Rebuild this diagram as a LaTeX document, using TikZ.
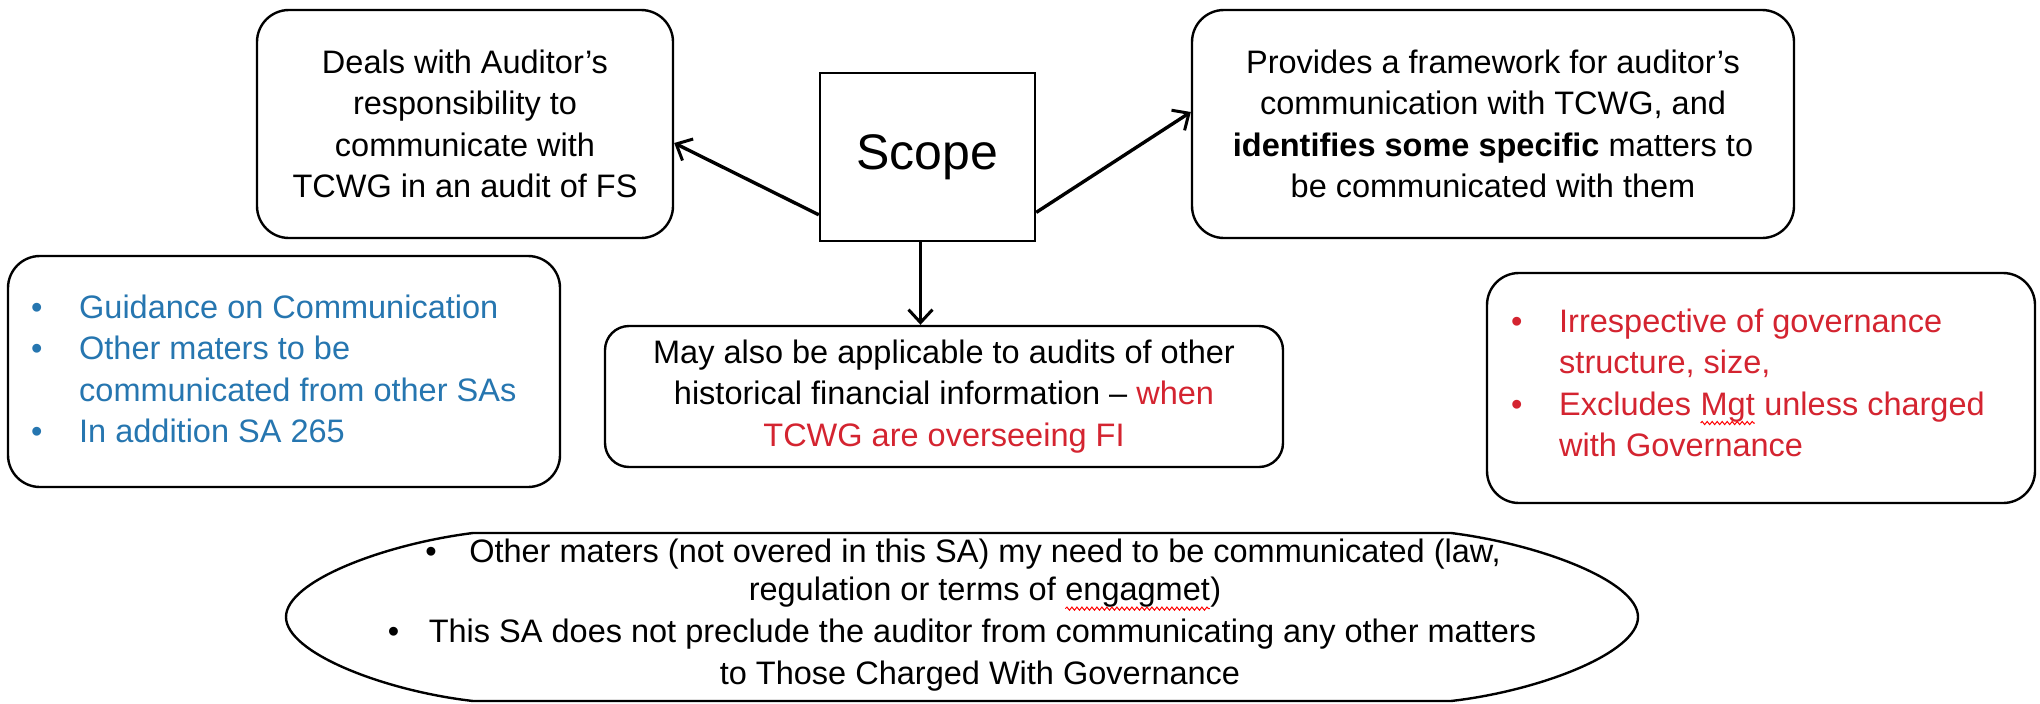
\documentclass[tikz,border=0pt]{standalone}
\usepackage{fontspec}
\setmainfont{Liberation Sans}
\usetikzlibrary{arrows.meta,decorations.pathmorphing}
\definecolor{noteblue}{RGB}{38,118,176}
\definecolor{notered}{RGB}{212,36,48}
% small red spell-check wave under a word
\newcommand\spellwave[1]{\tikz[baseline=(sw.base)]{%
  \node[inner sep=0pt, outer sep=0pt] (sw) {#1};
  \draw[red, line width=1pt, decorate,
        decoration={snake, amplitude=1.6pt, segment length=5pt}]
    ([yshift=-8pt]sw.base west) -- ([yshift=-8pt]sw.base east);}}
\newcommand\bodysize{\fontsize{32.5}{41.5}\selectfont}
\newcommand\bul[1]{\makebox[#1][l]{\textbullet}}

\begin{document}
\begin{tikzpicture}[x=1pt,y=-1pt,
  box/.style={draw, line width=2.4pt, rounded corners=32pt, font=\bodysize,
              align=center, inner sep=0pt},
  listtext/.style={anchor=west, font=\bodysize, inner sep=0pt, align=left},
  ovaltext/.style={anchor=mid, font=\bodysize, inner sep=0pt},
  conn/.style={line width=3.4pt,
               -{Straight Barb[length=13pt,width=24pt,line width=3pt]}},
  ]
\useasboundingbox (0,0) rectangle (2040,704);
\fill[white] (0,0) rectangle (2040,704);

% central topic
\node[draw, line width=2.4pt, minimum width=215pt, minimum height=168pt,
      font=\fontsize{50}{60}\selectfont, inner sep=0pt] (scope) at (927.5,157) {Scope};

% top row
\node[box, minimum width=416pt, minimum height=228pt] (deals) at (465,124)
  {Deals with Auditor’s\\responsibility to\\communicate with\\TCWG in an audit of FS};
\node[box, minimum width=602pt, minimum height=228pt] (frame) at (1493,124)
  {Provides a framework for auditor’s\\communication with TCWG, and\\\textbf{identifies some specific} matters to\\be communicated with them};

% blue list
\node[box, minimum width=552pt, minimum height=231pt] (guide) at (284,371.5) {};
\node[listtext, text=noteblue] (guidetext) at (31,372)
  {\begin{tabular}{@{}l@{}l@{}}
   \bul{48pt} & Guidance on Communication\\
   \bul{48pt} & Other maters to be\\
              & communicated from other SAs\\
   \bul{48pt} & In addition SA 265
   \end{tabular}};

% middle box
\node[box, rounded corners=24pt, minimum width=678pt, minimum height=141pt] (fin) at (944,396.5)
  {May also be applicable to audits of other\\historical financial information – \textcolor{notered}{when}\\\textcolor{notered}{TCWG are overseeing FI}};

% red list
\node[box, minimum width=548pt, minimum height=230pt] (gov) at (1761,388) {};
\node[listtext, text=notered] (govtext) at (1511,386)
  {\begin{tabular}{@{}l@{}l@{}}
   \bul{48pt} & Irrespective of governance\\
              & structure, size,\\
   \bul{48pt} & Excludes \spellwave{Mgt} unless charged\\
              & with Governance
   \end{tabular}};

% bottom oval: straight top and bottom, elliptical ends
\draw[line width=2.4pt] (473,533) -- (1451,533)
  .. controls (1539,544) and (1638,581) .. (1638,617)
  .. controls (1638,653) and (1539,691) .. (1451,701)
  -- (473,701)
  .. controls (385,691) and (286,653) .. (286,617)
  .. controls (286,581) and (385,544) .. (473,533) -- cycle;
\node[ovaltext] (other1) at (963,560)
  {\bul{44pt}Other maters (not overed in this SA) my need to be communicated (law,};
\node[ovaltext] (other2) at (985,598) {regulation or terms of \spellwave{engagmet})};
\node[ovaltext] (other3) at (962,640)
  {\bul{41pt}This SA does not preclude the auditor from communicating any other matters};
\node[ovaltext] (other4) at (980,682) {to Those Charged With Governance};

% connectors
\draw[conn] (scope.208) -- ([yshift=-19pt]deals.east);
\draw[conn] (scope.-27) -- ([yshift=12pt]frame.west);
\draw[conn] ([xshift=-7pt]scope.south) -- ([xshift=-7pt]scope.south |- fin.north);
\end{tikzpicture}
\end{document}
